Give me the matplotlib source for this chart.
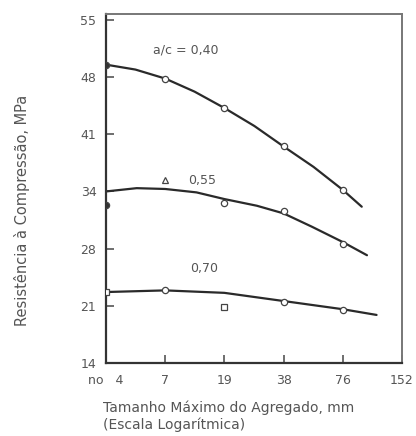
import numpy as np
import matplotlib
matplotlib.use("Agg")
import matplotlib.pyplot as plt

# ---- data ----
x_ticks = [4.75, 9.5, 19, 38, 76, 152]
x_labels = ["no   4", "7", "19", "38", "76", "152"]
y_ticks = [14, 21, 28, 34, 41, 48, 55]

# fitted curves
c40_x = [4.75, 6.7, 9.5, 13.4, 19, 27, 38, 54, 76, 95]
c40_y = [49.5, 48.9, 47.8, 46.2, 44.2, 42.0, 39.5, 37.0, 34.2, 32.4]
c55_x = [4.75, 6.8, 9.5, 13.7, 19, 27.8, 38, 53, 76, 101]
c55_y = [34.0, 34.4, 34.3, 33.9, 33.2, 32.5, 31.7, 30.3, 28.7, 27.2]
c70_x = [4.75, 9.5, 19, 38, 76, 113]
c70_y = [22.7, 22.9, 22.6, 21.6, 20.6, 19.9]

# measured points
p40_fill_x, p40_fill_y = [4.75], [49.5]
p40_circ_x, p40_circ_y = [9.5, 19, 38, 76], [47.8, 44.2, 39.5, 34.2]
p55_fill_x, p55_fill_y = [4.75], [32.6]
p55_tri_x, p55_tri_y = [9.5], [35.4]
p55_circ_x, p55_circ_y = [19, 38, 76], [32.8, 32.0, 28.5]
p70_sq_x, p70_sq_y = [4.75, 19], [22.7, 20.9]
p70_circ_x, p70_circ_y = [9.5, 38, 76], [22.9, 21.5, 20.5]

labels = ["a/c = 0,40", "0,55", "0,70"]
label_pos = [(8.2, 51.3), (12.4, 35.3), (12.7, 25.6)]

# ---- figure ----
plt.rcParams['font.family'] = ['DejaVu Sans']
fig = plt.figure(figsize=(4.16, 4.36), dpi=100)
ax = fig.add_axes([0.255, 0.167, 0.711, 0.801])

idx = np.arange(len(y_ticks), dtype=float)
def fwd(v):
    v = np.asarray(v, dtype=float)
    return np.interp(v, y_ticks, idx) + \
        np.where(v > y_ticks[-1], (v - y_ticks[-1]) / 7.0, 0) + \
        np.where(v < y_ticks[0], (v - y_ticks[0]) / 7.0, 0)
def inv(p):
    p = np.asarray(p, dtype=float)
    return np.interp(p, idx, y_ticks) + \
        np.where(p > idx[-1], (p - idx[-1]) * 7.0, 0) + \
        np.where(p < 0, p * 7.0, 0)

ax.set_yscale('function', functions=(fwd, inv))
ax.set_xscale('log', base=2)

lc = '#2a2a2a'
for cx, cy in [(c40_x, c40_y), (c55_x, c55_y), (c70_x, c70_y)]:
    ax.plot(cx, cy, color=lc, lw=1.6, solid_capstyle='round',
            solid_joinstyle='round', zorder=2)

mk = dict(linestyle='none', markersize=4.5, markeredgewidth=0.9,
          markeredgecolor='#444444', zorder=3)
ax.plot(p40_fill_x, p40_fill_y, marker='o', markerfacecolor='#333333', **mk)
ax.plot(p40_circ_x, p40_circ_y, marker='o', markerfacecolor='white', **mk)
ax.plot(p55_fill_x, p55_fill_y, marker='o', markerfacecolor='#333333', **mk)
ax.plot(p55_tri_x, p55_tri_y, marker='^', markerfacecolor='white', **mk)
ax.plot(p55_circ_x, p55_circ_y, marker='o', markerfacecolor='white', **mk)
ax.plot(p70_sq_x, p70_sq_y, marker='s', markerfacecolor='white', **mk)
ax.plot(p70_circ_x, p70_circ_y, marker='o', markerfacecolor='white', **mk)

tc = '#555555'
for t, (lx, ly) in zip(labels, label_pos):
    ax.text(lx, ly, t, fontsize=9, color=tc, ha='left', va='center')

ax.set_xlim(4.75, 152)
ax.set_ylim(14, inv(6.1))
ax.set_xticks(x_ticks)
ax.set_xticklabels(x_labels)
ax.minorticks_off()
ax.set_yticks(y_ticks)
ax.set_yticklabels([str(v) for v in y_ticks])
ax.tick_params(axis='both', direction='in', length=6, width=1.2, color='#555555',
               labelsize=9, labelcolor=tc)
ax.tick_params(axis='x', pad=8)
ax.tick_params(axis='y', pad=7)

for s in ['left', 'bottom']:
    ax.spines[s].set_color('#333333')
    ax.spines[s].set_linewidth(1.6)
for s in ['top', 'right']:
    ax.spines[s].set_color('#777777')
    ax.spines[s].set_linewidth(1.4)

fig.text(22 / 416, 1 - 210 / 436, "Resistência à Compressão, MPa",
         fontsize=10.5, color=tc, rotation=90, ha='center', va='center')
fig.text(103 / 416, 1 - 416 / 436, "Tamanho Máximo do Agregado, mm\n(Escala Logarítmica)",
         fontsize=10, color=tc, ha='left', va='center', linespacing=1.25)

fig.savefig("out.png", dpi=100)
